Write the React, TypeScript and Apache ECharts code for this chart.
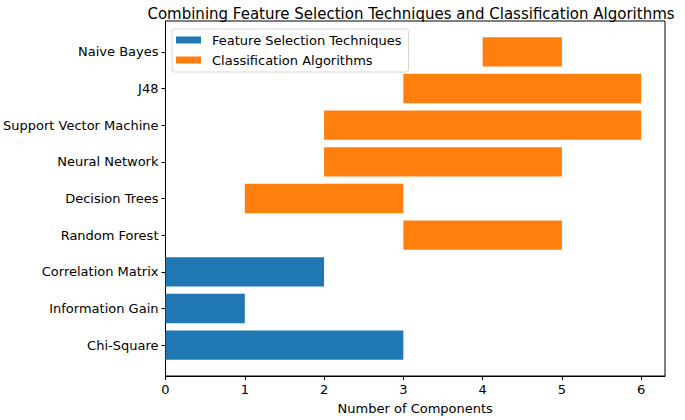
import React, { useEffect, useRef } from "react";
import * as echarts from "echarts";

const categories = [
  "Chi-Square",
  "Information Gain",
  "Correlation Matrix",
  "Random Forest",
  "Decision Trees",
  "Neural Network",
  "Support Vector Machine",
  "J48",
  "Naive Bayes",
];

// Feature selection techniques (category index, start, end)
const featureIdx = [0, 1, 2];
const featureStart = [0, 0, 0];
const featureEnd = [3, 1, 2];

// Classification algorithms (category index, start, end)
const classIdx = [3, 4, 5, 6, 7, 8];
const classStart = [3, 1, 2, 2, 3, 4];
const classEnd = [5, 3, 5, 6, 6, 5];

const xTicks = [0, 1, 2, 3, 4, 5, 6];
const yTicks = [0, 1, 2, 3, 4, 5, 6, 7, 8];

const BLUE = "#1f77b4";
const ORANGE = "#ff7f0e";
const FONT = "DejaVu Sans";

function makeRender(color: string) {
  return (params: any, api: any) => {
    const s = api.coord([api.value(0), api.value(2)]);
    const e = api.coord([api.value(1), api.value(2)]);
    const h = api.size([0, 0.8])[1];
    return {
      type: "rect",
      shape: { x: s[0], y: s[1] - h / 2, width: e[0] - s[0], height: h },
      style: { fill: color },
    };
  };
}

export default function App() {
  const ref = useRef<HTMLDivElement>(null);
  useEffect(() => {
    document.body.style.margin = "0";
    const chart = echarts.init(ref.current!, undefined, { renderer: "svg" });
    const featureData = featureIdx.map((c, i) => [featureStart[i], featureEnd[i], c]);
    const classData = classIdx.map((c, i) => [classStart[i], classEnd[i], c]);
    chart.setOption({
      animation: false,
      backgroundColor: "#fff",
      textStyle: { fontFamily: FONT },
      title: {
        text: "Combining Feature Selection Techniques and Classification Algorithms",
        left: 406,
        top: 1,
        textAlign: "center",
        textStyle: { fontFamily: FONT, fontSize: 15, fontWeight: "normal", color: "#000" },
      },
      legend: {
        orient: "vertical",
        left: 172,
        top: 29,
        itemWidth: 25,
        itemHeight: 7,
        itemGap: 6,
        padding: [4, 7, 5, 4],
        borderColor: "#d6d6d6",
        borderWidth: 1,
        borderRadius: 3,
        backgroundColor: "rgba(255,255,255,0.8)",
        textStyle: { fontFamily: FONT, fontSize: 13, lineHeight: 14, color: "#000", padding: [0, 0, 0, 6] },
        data: [
          { name: "Feature Selection Techniques", icon: "rect", itemStyle: { color: BLUE } },
          { name: "Classification Algorithms", icon: "rect", itemStyle: { color: ORANGE } },
        ],
      },
      grid: {
        left: 164,
        right: 20,
        top: 21,
        bottom: 42,
        show: true,
        borderColor: "#000",
        borderWidth: 1,
        backgroundColor: "transparent",
      },
      xAxis: {
        type: "value",
        min: 0,
        max: 6.3,
        name: "Number of Components",
        nameLocation: "middle",
        nameGap: 26,
        nameTextStyle: { fontFamily: FONT, fontSize: 13, color: "#000" },
        axisLine: { show: true, onZero: false, lineStyle: { color: "#000" } },
        axisTick: { show: true, length: 4, customValues: xTicks, lineStyle: { color: "#000" } },
        axisLabel: { customValues: xTicks, fontFamily: FONT, fontSize: 13, color: "#000", margin: 7 },
        splitLine: { show: false },
      },
      yAxis: {
        type: "value",
        min: -0.84,
        max: 8.84,
        axisLine: { show: true, onZero: false, lineStyle: { color: "#000" } },
        axisTick: { show: true, length: 4, customValues: yTicks, lineStyle: { color: "#000" } },
        axisLabel: {
          customValues: yTicks,
          fontFamily: FONT,
          fontSize: 13,
          color: "#000",
          margin: 7,
          formatter: (v: number) => categories[Math.round(v)] ?? "",
        },
        splitLine: { show: false },
      },
      series: [
        {
          name: "Feature Selection Techniques",
          type: "custom",
          itemStyle: { color: BLUE },
          renderItem: makeRender(BLUE),
          encode: { x: [0, 1], y: 2 },
          data: featureData,
        },
        {
          name: "Classification Algorithms",
          type: "custom",
          itemStyle: { color: ORANGE },
          renderItem: makeRender(ORANGE),
          encode: { x: [0, 1], y: 2 },
          data: classData,
        },
      ],
    });
    return () => chart.dispose();
  }, []);
  return <div ref={ref} style={{ width: 685, height: 420 }} />;
}
